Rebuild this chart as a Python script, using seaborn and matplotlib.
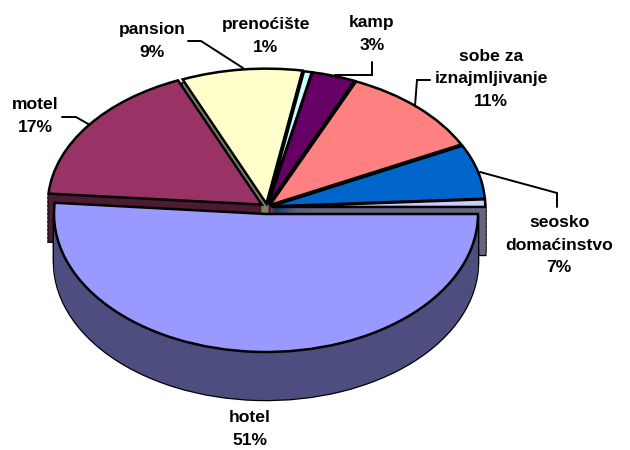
import matplotlib
matplotlib.use("Agg")
import matplotlib.pyplot as plt
from matplotlib.transforms import Affine2D
import seaborn as sns

# values (slice angles), labels show the rounded numbers
categories = ['hotel', 'motel', 'pansion', 'prenoćište', 'kamp', 'sobe za\niznajmljivanje', 'seosko\ndomaćinstvo', '']
values = [51.3, 17.3, 9.1, 0.6, 3.3, 11.0, 6.5, 0.9]
percent_labels = ['51%', '17%', '9%', '1%', '3%', '11%', '7%', '']
top_colors = ['#9999FF', '#993366', '#FFFFCC', '#CCFFFF', '#660066', '#FF8080', '#0066CC', '#CCCCFF']
wall_colors = ['#4D4D80', '#4D1A33', '#808066', '#668080', '#330033', '#804040', '#003366', '#666680']

explode = [0, .03, .025, .02, .02, .02, .02, .02]
DEPTH = 48

sns.set_theme(style="white")
plt.rcParams['font.family'] = ['Liberation Sans', 'DejaVu Sans']

fig, ax = plt.subplots(figsize=(6.3, 4.5), dpi=100)
ax.set_position([0, 0, 1, 1])


def pie_layer(colors, dy, is_hotel, edge='none', lw=0.0, z=1):
    """One flat copy of the pie, squashed to an ellipse, dy pixels lower."""
    wedges, _ = ax.pie(values, colors=sns.color_palette(colors), explode=explode,
                       startangle=0, counterclock=False, radius=1)
    for i, w in enumerate(wedges):
        if (i == 0) != is_hotel:
            w.set_visible(False)
            continue
        if i == 0:
            tr = Affine2D().scale(212, -138).translate(266, 214 + dy)
        else:
            tr = Affine2D().scale(214, -135).translate(267, 207 + dy)
        w.set_transform(tr + ax.transData)
        w.set_edgecolor(edge)
        w.set_linewidth(lw)
        w.set_zorder(z)


def draw_group(is_hotel, z):
    # black silhouette of the side walls, then wall colour, then the top face
    for d in range(DEPTH, 0, -4):
        pie_layer(wall_colors, d, is_hotel, edge='black', lw=1.8, z=z)
    for d in range(DEPTH, 0, -1):
        pie_layer(wall_colors, d, is_hotel, z=z + 1)
    pie_layer(top_colors, 0, is_hotel, edge='black', lw=1.8, z=z + 2)


draw_group(False, 1)
draw_group(True, 4)

# leader lines
leaders = [
    ([62, 76, 90], [117, 117, 125]),
    ([188, 201, 243], [41, 41, 68]),
    ([372, 372, 335], [62, 75, 75]),
    ([430, 417, 415], [80, 80, 106]),
    ([480, 557, 557], [172, 193, 207]),
]
for xs, ys in leaders:
    ax.plot(xs, ys, color='black', lw=1.4, zorder=0, solid_joinstyle='miter')

label_pos = [(250, 429), (35, 116), (152, 41), (266, 36), (372, 34), (491, 79), (559, 245)]
for name, pct, (x, y) in zip(categories, percent_labels, label_pos):
    ax.text(x, y, name + '\n' + pct, ha='center', va='center', fontsize=12.6,
            fontweight='bold', color='black', linespacing=1.66, zorder=10)

ax.set_aspect('auto')
ax.set_xlim(0, 630)
ax.set_ylim(450, 0)
ax.axis('off')
fig.savefig('out.png', dpi=100)
